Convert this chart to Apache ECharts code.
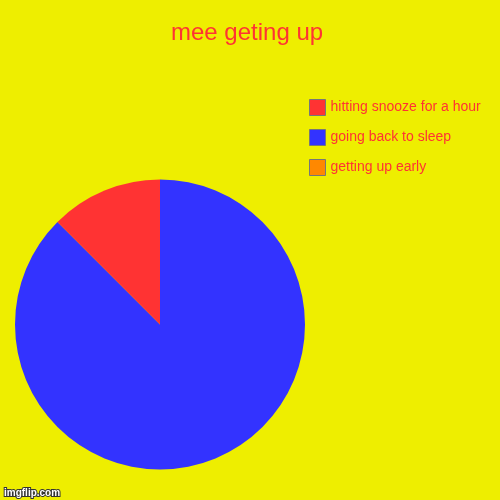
<!DOCTYPE html>
<html>
<head>
<meta charset="utf-8">
<script src="https://cdn.jsdelivr.net/npm/echarts@6/dist/echarts.min.js"></script>
<style>
  html, body { margin: 0; padding: 0; background: #eeee00; }
  #chart { width: 500px; height: 500px; }
</style>
</head>
<body>
<div id="chart"></div>
<script>
const titleText = 'mee geting up';
const categories = ['getting up early', 'going back to sleep', 'hitting snooze for a hour'];
const values = [0, 7, 1];
const colors = ['#ff8800', '#3333ff', '#ff3333'];
const legendOrder = ['hitting snooze for a hour', 'going back to sleep', 'getting up early'];

const chart = echarts.init(document.getElementById('chart'), null, { renderer: 'canvas' });
chart.setOption({
  backgroundColor: '#eeee00',
  animation: false,
  title: {
    text: titleText,
    left: 166,
    top: 16,
    textStyle: { color: '#ff3333', fontSize: 24, fontWeight: 'normal', fontFamily: 'Liberation Sans, Arial, sans-serif' }
  },
  legend: {
    data: legendOrder,
    orient: 'vertical',
    left: 304,
    top: 94,
    itemWidth: 16,
    itemHeight: 16,
    itemGap: 13,
    icon: 'rect',
    itemStyle: { borderColor: '#777777', borderWidth: 1 },
    textStyle: { color: '#ff3333', fontSize: 14, fontFamily: 'Liberation Sans, Arial, sans-serif' }
  },
  graphic: [{
    type: 'text',
    left: 3,
    top: 487,
    style: {
      text: 'imgflip.com',
      fill: '#ffffff',
      stroke: '#333333',
      lineWidth: 2,
      font: 'bold 10px Liberation Sans, Arial, sans-serif'
    }
  }],
  series: [{
    type: 'pie',
    center: [160, 324.5],
    radius: [0, 145],
    startAngle: 90,
    clockwise: true,
    label: { show: false },
    labelLine: { show: false },
    emphasis: { disabled: true },
    itemStyle: { borderWidth: 0 },
    data: categories.map((c, i) => ({ name: c, value: values[i], itemStyle: { color: colors[i] } }))
  }]
});
</script>
</body>
</html>
